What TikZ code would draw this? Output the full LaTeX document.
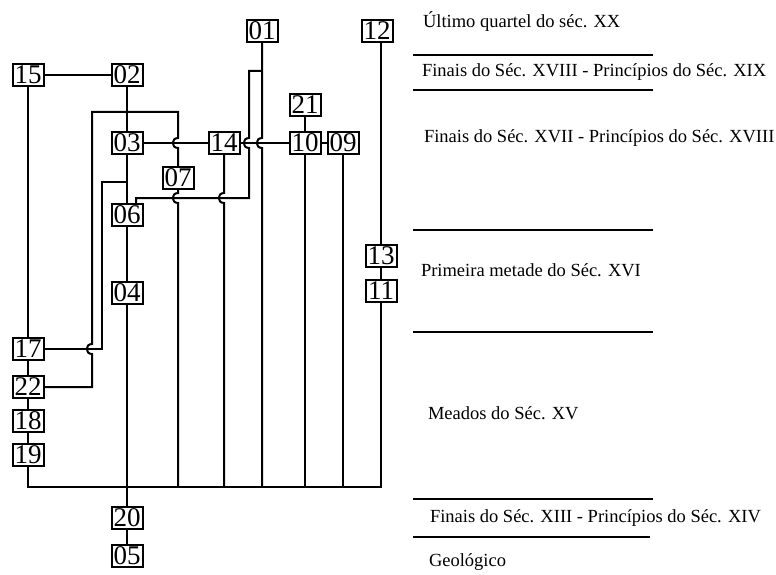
\documentclass[tikz,border=0pt]{standalone}
\usepackage{fontspec}
\setmainfont{Liberation Serif}
\usetikzlibrary{positioning}

\begin{document}
\begin{tikzpicture}[x=1pt,y=-1pt,on grid,line width=2pt,
		unit/.style={rectangle,draw=black,line width=2pt,inner sep=0pt,minimum width=31pt,minimum height=22pt,font=\fontsize{27}{27}\selectfont},
		epoca/.style={anchor=west,inner sep=0pt,font=\fontsize{18.5}{22}\selectfont},
		hopdn/.style 2 args={insert path={-- (#1,#2-5) .. controls (#1-7,#2-5) and (#1-7,#2+5) .. (#1,#2+5)}},
		hopup/.style 2 args={insert path={-- (#1,#2+5) .. controls (#1-7,#2+5) and (#1-7,#2-5) .. (#1,#2-5)}}]
		\useasboundingbox (0,0) rectangle (776,575);
		\node[unit] (u01) at (262,31) {01};
		\node[unit] (u12) at (377,31) {12};
		\node[unit] (u15) at (28,75) {15};
		\node[unit] (u02) at (127,75) {02};
		\node[unit] (u21) at (305,105) {21};
		\node[unit] (u03) at (127,143) {03};
		\node[unit] (u14) at (224,143) {14};
		\node[unit] (u10) at (305,143) {10};
		\node[unit] (u09) at (343,143) {09};
		\node[unit] (u07) at (178,178) {07};
		\node[unit] (u06) at (127,215) {06};
		\node[unit] (u04) at (127,293) {04};
		\node[unit] (u13) at (381,256) {13};
		\node[unit] (u11) [below=35pt of u13] {11};
		\node[unit] (u17) at (28,349) {17};
		\node[unit] (u22) [below=38pt of u17] {22};
		\node[unit] (u18) [below=34pt of u22] {18};
		\node[unit] (u19) [below=34pt of u18] {19};
		\node[unit] (u20) at (127,518) {20};
		\node[unit] (u05) [below=38pt of u20] {05};
		\coordinate (bus) at (0,487);
		
		\draw (u15) -- (u02);
		\draw (u02) -- (u03) -- (u06) -- (u04) -- (u20) -- (u05);
		\draw (u15) -- (u17) -- (u22) -- (u18) -- (u19);
		\draw (u19) -- (u19 |- bus) -- (u11 |- bus) -- (u11);
		\draw (u12.south -| u13) -- (u13) -- (u11);
		\draw (u21) -- (u10) -- (u09);
		\draw (u03) -- (u14) -- (u10);
		\draw (u10) -- (u10 |- bus);
		\draw (u09) -- (u09 |- bus);
		\draw (u07.south) [hopdn={178}{198}] -- (u07 |- bus);
		\draw (u14.south) [hopdn={224}{198}] -- (u14 |- bus);
		\draw (u01.south) [hopdn={262}{143}] -- (u01 |- bus);
		\draw ([xshift=9pt]u06.north) |- (249,198) [hopup={249}{143}] -- (249,71) -- (u01 |- 0,71);
		\draw (u22) -- (92,387) [hopup={92}{349}] -- (92,112) -- (178,112) [hopdn={178}{143}] -- (u07);
		\draw (u17) -| (102,182) -- (u03 |- 0,182);
		
		\node[epoca] (e1) at (422,22) {Último quartel do séc. XX};
		\node[epoca] (e2) at (421,72) {Finais do Séc. XVIII - Princípios do Séc. XIX};
		\node[epoca] (e3) at (423,138) {Finais do Séc. XVII - Princípios do Séc. XVIII};
		\node[epoca] (e4) at (420,270) {Primeira metade do Séc. XVI};
		\node[epoca] (e5) at (427,413) {Meados do Séc. XV};
		\node[epoca] (e6) at (429,518) {Finais do Séc. XIII - Princípios do Séc. XIV};
		\node[epoca] (e7) at (428,562) {Geológico};
		\foreach \y in {55,90,230,332,499}
			\draw (413,\y) -- (653,\y);
		\draw (413,537) -- (650,537);
\end{tikzpicture}
\end{document}
